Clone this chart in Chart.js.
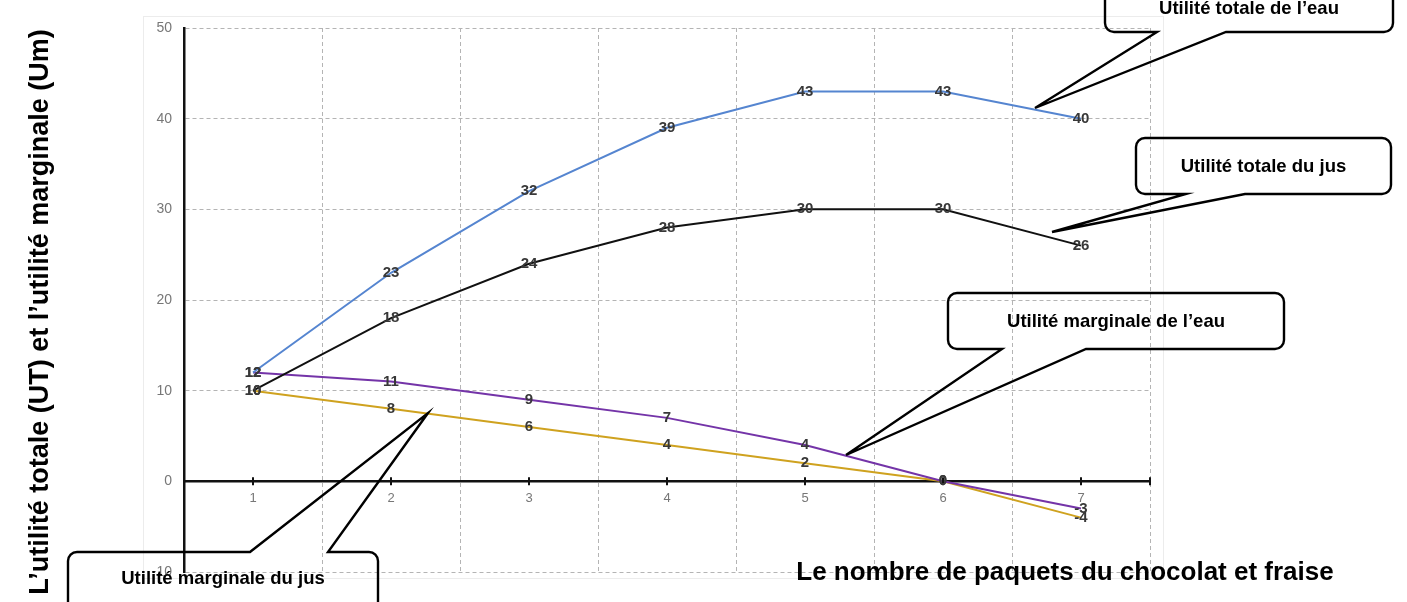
<!DOCTYPE html>
<html lang="fr">
<head>
<meta charset="utf-8">
<title>Utilité totale et utilité marginale</title>
<script src="https://cdn.jsdelivr.net/npm/chart.js"></script>
<style>
  html, body { margin: 0; padding: 0; background: #fff; }
  #wrap { position: relative; width: 1407px; height: 602px; }
</style>
</head>
<body>
<div id="wrap"><canvas id="myChart" width="1407" height="602"></canvas></div>
<script>
'use strict';

// ── Data ───────────────────────────────────────────────────────────────────
const packets     = ['1', '2', '3', '4', '5', '6', '7'];
const utTotaleEau = [12, 23, 32, 39, 43, 43, 40];
const utTotaleJus = [10, 18, 24, 28, 30, 30, 26];
const umEau       = [12, 11, 9, 7, 4, 0, -3];
const umJus       = [10, 8, 6, 4, 2, 0, -4];
const yTicks      = [-10, 0, 10, 20, 30, 40, 50];

const FONT = '"Liberation Sans", Arial, Helvetica, sans-serif';
Chart.defaults.font.family = FONT;

// ── Callout shapes (rounded box + wedge pointing at a curve) ───────────────
const callouts = [
    { text: 'Utilité totale de l\u2019eau',     x: 1105, y: -20, w: 288, h: 52, side: 'bottom', a: 1157, b: 1226, tip: [1035, 108], ty: 9 },
    { text: 'Utilité totale du jus',            x: 1136, y: 138, w: 255, h: 56, side: 'bottom', a: 1186, b: 1245, tip: [1052, 232], ty: 167 },
    { text: 'Utilité marginale de l\u2019eau',  x: 948,  y: 293, w: 336, h: 56, side: 'bottom', a: 1002, b: 1086, tip: [846, 455],  ty: 322 },
    { text: 'Utilité marginale du jus',         x: 68,   y: 552, w: 310, h: 60, side: 'top',    a: 250,  b: 328,  tip: [428, 413],  ty: 579 }
];

function strokeCallout(ctx, c) {
    const r = 9;
    const { x, y, w, h } = c;
    ctx.beginPath();
    ctx.moveTo(x + r, y);
    if (c.side === 'top') {
        ctx.lineTo(c.a, y);
        ctx.lineTo(c.tip[0], c.tip[1]);
        ctx.lineTo(c.b, y);
    }
    ctx.lineTo(x + w - r, y);
    ctx.arcTo(x + w, y, x + w, y + r, r);
    ctx.lineTo(x + w, y + h - r);
    ctx.arcTo(x + w, y + h, x + w - r, y + h, r);
    if (c.side === 'bottom') {
        ctx.lineTo(c.b, y + h);
        ctx.lineTo(c.tip[0], c.tip[1]);
        ctx.lineTo(c.a, y + h);
    }
    ctx.lineTo(x + r, y + h);
    ctx.arcTo(x, y + h, x, y + h - r, r);
    ctx.lineTo(x, y + r);
    ctx.arcTo(x, y, x + r, y, r);
    ctx.closePath();
    ctx.stroke();
}

// ── Plugin: frame, axis ticks, value labels, titles, callouts ──────────────
const decorPlugin = {
    id: 'decor',
    beforeDraw(chart) {
        const { ctx } = chart;
        ctx.save();
        ctx.strokeStyle = '#ececec';
        ctx.lineWidth = 1;
        ctx.strokeRect(143.5, 16.5, 1020, 562);
        ctx.restore();
    },
    afterDatasetsDraw(chart) {
        const { ctx, chartArea, scales } = chart;
        const y0 = scales.y.getPixelForValue(0);

        ctx.save();
        // small tick marks across the x axis at each category and at the end
        ctx.strokeStyle = '#111';
        ctx.lineWidth = 2;
        ctx.beginPath();
        packets.forEach((_, i) => {
            const px = scales.x.getPixelForValue(i);
            ctx.moveTo(px, y0 - 4); ctx.lineTo(px, y0 + 4);
        });
        ctx.moveTo(chartArea.right, y0 - 4); ctx.lineTo(chartArea.right, y0 + 4);
        ctx.stroke();

        // value labels centred on each point
        ctx.font = 'bold 15px ' + FONT;
        ctx.fillStyle = '#383838';
        ctx.textAlign = 'center';
        ctx.textBaseline = 'middle';
        chart.data.datasets.forEach((ds, di) => {
            chart.getDatasetMeta(di).data.forEach((pt, j) => {
                ctx.fillText(String(ds.data[j]), pt.x, pt.y);
            });
        });
        ctx.restore();
    },
    afterDraw(chart) {
        const { ctx } = chart;
        ctx.save();

        // axis titles
        ctx.fillStyle = '#000';
        ctx.font = 'bold 27px ' + FONT;
        ctx.textAlign = 'center';
        ctx.textBaseline = 'middle';
        ctx.save();
        ctx.translate(41, 312);
        ctx.rotate(-Math.PI / 2);
        ctx.fillText('L\u2019utilité totale (UT) et l\u2019utilité marginale (Um)', 0, 0);
        ctx.restore();

        ctx.font = 'bold 26px ' + FONT;
        ctx.fillText('Le nombre de paquets du chocolat et fraise', 1065, 573);

        // callouts
        ctx.strokeStyle = '#000';
        ctx.lineWidth = 2.4;
        ctx.lineJoin = 'miter';
        ctx.font = 'bold 18.5px ' + FONT;
        ctx.fillStyle = '#000';
        callouts.forEach(c => {
            strokeCallout(ctx, c);
            ctx.fillText(c.text, c.x + c.w / 2, c.ty);
        });
        ctx.restore();
    }
};

// ── Chart ──────────────────────────────────────────────────────────────────
const lineDs = (label, data, color) => ({
    label,
    data,
    borderColor: color,
    backgroundColor: color,
    borderWidth: 2,
    pointRadius: 0,
    tension: 0,
    fill: false
});

const chart = new Chart(document.getElementById('myChart').getContext('2d'), {
    type: 'line',
    data: {
        labels: packets,
        datasets: [
            lineDs('Utilité totale de l\u2019eau', utTotaleEau, '#5585d0'),
            lineDs('Utilité totale du jus', utTotaleJus, '#111111'),
            lineDs('Utilité marginale de l\u2019eau', umEau, '#7434a8'),
            lineDs('Utilité marginale du jus', umJus, '#cfa21f')
        ]
    },
    options: {
        responsive: false,
        animation: false,
        devicePixelRatio: 1,
        layout: { padding: { top: 28, right: 257, bottom: 30, left: 0 } },
        plugins: {
            legend: { display: false },
            title: { display: false },
            tooltip: { enabled: false }
        },
        scales: {
            x: {
                type: 'category',
                position: { y: 0 },
                offset: true,
                grid: {
                    offset: true,
                    color: '#b4b4b4',
                    lineWidth: 1,
                    drawTicks: false
                },
                border: { display: true, color: '#111', width: 2.5, dash: [4, 3] },
                ticks: { color: '#777', font: { size: 13 }, padding: 9, maxRotation: 0 }
            },
            y: {
                min: -10,
                max: 50,
                afterBuildTicks: (scale) => { scale.ticks = yTicks.map(v => ({ value: v })); },
                afterFit: (scale) => { scale.width = 184; },
                grid: { color: '#b4b4b4', lineWidth: 1, drawTicks: false },
                border: { display: true, color: '#111', width: 2.5, dash: [4, 3] },
                ticks: { color: '#777', font: { size: 14 }, padding: 12 }
            }
        }
    },
    plugins: [decorPlugin]
});
</script>
</body>
</html>
